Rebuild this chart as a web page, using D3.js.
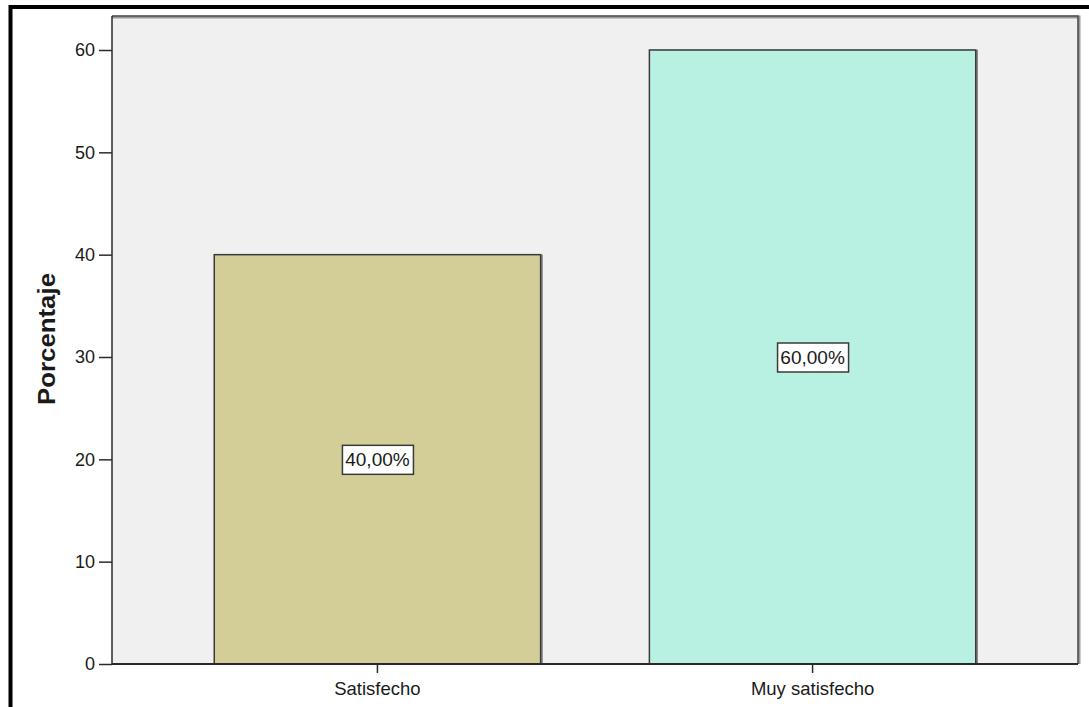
<!DOCTYPE html>
<html>
<head>
<meta charset="utf-8">
<script src="https://cdn.jsdelivr.net/npm/d3@7"></script>
<style>
  html, body { margin: 0; padding: 0; background: #ffffff; }
  svg { display: block; }
  text { font-family: "Liberation Sans", Arial, sans-serif; fill: #1a1a1a; }
</style>
</head>
<body>
<script>
// Survey result: share of respondents per satisfaction level
const categories = ["Satisfecho", "Muy satisfecho"];
const percentages = [40, 60];
const barColors = ["#d3ce98", "#b8f0e2"];
const yTicks = [0, 10, 20, 30, 40, 50, 60];
const yAxisTitle = "Porcentaje";

const width = 1089, height = 707;
const plot = { left: 112, right: 1078, top: 16, bottom: 664 };

const svg = d3.select("body").append("svg")
  .attr("width", width).attr("height", height);

const defs = svg.append("defs");
const shadow = defs.append("filter").attr("id", "soft")
  .attr("x", "-5%").attr("y", "-5%").attr("width", "110%").attr("height", "110%");
shadow.append("feGaussianBlur").attr("stdDeviation", 0.7);

// Outer black frame (only the top and left edges fall inside the page)
svg.append("path")
  .attr("d", `M10.5,${height + 5} L10.5,7 L${width + 5},7`)
  .attr("fill", "none").attr("stroke", "#000").attr("stroke-width", 4);

// Scales: 60 sits a little below the top of the plot frame
const pxPerUnit = (plot.bottom - 50) / 60;
const yMax = (plot.bottom - plot.top) / pxPerUnit;
const y = d3.scaleLinear().domain([0, yMax]).range([plot.bottom, plot.top]);
const x = d3.scaleBand().domain(categories)
  .range([plot.left, plot.right])
  .paddingInner(0.25).paddingOuter(0.235);

// Plot background
svg.append("rect")
  .attr("x", plot.left).attr("y", plot.top)
  .attr("width", plot.right - plot.left).attr("height", plot.bottom - plot.top)
  .attr("fill", "#f0f0f0");

// Frame top/right with a soft shadow
svg.append("path")
  .attr("d", `M${plot.left},${plot.top + 1} L${plot.right + 1},${plot.top + 1} L${plot.right + 1},${plot.bottom}`)
  .attr("fill", "none").attr("stroke", "#9a9a9a").attr("stroke-width", 3)
  .attr("filter", "url(#soft)");
svg.append("path")
  .attr("d", `M${plot.left},${plot.top} L${plot.right},${plot.top} L${plot.right},${plot.bottom}`)
  .attr("fill", "none").attr("stroke", "#505050").attr("stroke-width", 1.5);

// Bars
const data = categories.map((c, i) => ({ cat: c, value: percentages[i], color: barColors[i] }));

const bars = svg.append("g");
bars.selectAll("path.shade").data(data).join("path")
  .attr("class", "shade")
  .attr("d", d => `M${x(d.cat)},${y(d.value) + 1} L${x(d.cat) + x.bandwidth() + 1},${y(d.value) + 1} L${x(d.cat) + x.bandwidth() + 1},${plot.bottom}`)
  .attr("fill", "none").attr("stroke", "#8a8a8a").attr("stroke-width", 2.5)
  .attr("filter", "url(#soft)");
bars.selectAll("rect").data(data).join("rect")
  .attr("x", d => x(d.cat))
  .attr("y", d => y(d.value))
  .attr("width", x.bandwidth())
  .attr("height", d => plot.bottom - y(d.value))
  .attr("fill", d => d.color)
  .attr("stroke", "#3a3a3a").attr("stroke-width", 1.5);

// Y axis
const yAxis = svg.append("g")
  .attr("transform", `translate(${plot.left},0)`)
  .call(d3.axisLeft(y).tickValues(yTicks).tickSize(13).tickPadding(4).tickFormat(d3.format("d")))
  .call(g => g.select(".domain").attr("d", `M0,${plot.top}V${plot.bottom}`));
yAxis.selectAll("line").attr("stroke", "#2a2a2a").attr("stroke-width", 1.5);
yAxis.select(".domain").attr("stroke", "#2a2a2a").attr("stroke-width", 1.5);
yAxis.selectAll("text").attr("font-size", 18).attr("fill", "#1a1a1a")
  .attr("font-family", "Liberation Sans, Arial, sans-serif");

// X axis
const xAxis = svg.append("g")
  .attr("transform", `translate(0,${plot.bottom})`)
  .call(d3.axisBottom(x).tickSize(9).tickPadding(9))
  .call(g => g.select(".domain").attr("d", `M${plot.left},0H${plot.right}`));
xAxis.selectAll("line").attr("stroke", "#2a2a2a").attr("stroke-width", 1.5);
xAxis.select(".domain").attr("stroke", "#2a2a2a").attr("stroke-width", 2);
xAxis.selectAll("text").attr("font-size", 18.5).attr("fill", "#1a1a1a")
  .attr("font-family", "Liberation Sans, Arial, sans-serif");

// Y axis title
svg.append("text")
  .attr("transform", `translate(55,339) rotate(-90)`)
  .attr("text-anchor", "middle")
  .attr("font-size", 23).attr("font-weight", "bold")
  .attr("textLength", 132).attr("lengthAdjust", "spacingAndGlyphs")
  .text(yAxisTitle);

// Value labels inside the bars
const fmt = d3.formatLocale({ decimal: ",", thousands: ".", grouping: [3], currency: ["", "%"] }).format(".2f");
const labels = svg.append("g").selectAll("g").data(data).join("g")
  .attr("transform", d => `translate(${x(d.cat) + x.bandwidth() / 2},${y(d.value / 2)})`);
labels.append("rect")
  .attr("x", -35).attr("y", -14).attr("width", 71).attr("height", 29)
  .attr("fill", "#ffffff").attr("stroke", "#3a3a3a").attr("stroke-width", 1.5);
labels.append("text")
  .attr("text-anchor", "middle").attr("dy", "0.36em")
  .attr("font-size", 19)
  .text(d => fmt(d.value) + "%");
</script>
</body>
</html>
